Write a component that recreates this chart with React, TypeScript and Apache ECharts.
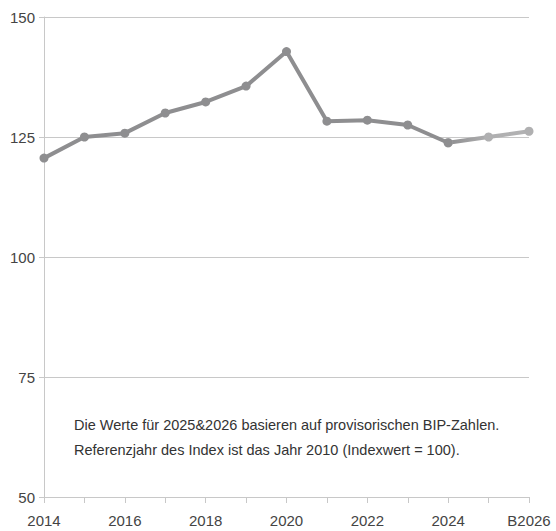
import React, { useEffect, useRef } from "react";
import * as echarts from "echarts";

const categories = ["2014", "2015", "2016", "2017", "2018", "2019", "2020", "2021", "2022", "2023", "2024", "2025", "B2026"];
const mainValues: (number | null)[] = [120.6, 125.0, 125.8, 130.0, 132.3, 135.6, 142.8, 128.3, 128.5, 127.5, 123.8, null, null];
const provisionalValues: (number | null)[] = [null, null, null, null, null, null, null, null, null, null, 123.8, 125.0, 126.2];
const yTicks = [50, 75, 100, 125, 150];
const noteLines = [
  "Die Werte für 2025&2026 basieren auf provisorischen BIP-Zahlen.",
  "Referenzjahr des Index ist das Jahr 2010 (Indexwert = 100).",
];

export default function App() {
  const ref = useRef<HTMLDivElement>(null);
  useEffect(() => {
    if (!ref.current) return;
    const chart = echarts.init(ref.current, undefined, { renderer: "svg" });
    const font = "'Liberation Sans', Arial, sans-serif";
    chart.setOption({
      animation: false,
      grid: { left: 44, right: 27, top: 17, bottom: 34, containLabel: false },
      xAxis: {
        type: "category",
        data: categories,
        boundaryGap: false,
        axisLine: { show: true, lineStyle: { color: "#c8c8c8", width: 1 } },
        axisTick: { show: true, interval: 0, length: 6, lineStyle: { color: "#c8c8c8" } },
        axisLabel: { interval: 1, color: "#444", fontSize: 15, fontFamily: font, margin: 16 },
        splitLine: { show: false },
      },
      yAxis: {
        type: "value",
        min: yTicks[0],
        max: yTicks[yTicks.length - 1],
        interval: 25,
        axisLine: { show: true, lineStyle: { color: "#c8c8c8", width: 1 } },
        axisTick: { show: true, length: 5, lineStyle: { color: "#c8c8c8" } },
        axisLabel: { color: "#444", fontSize: 15, fontFamily: font, margin: 9 },
        splitLine: { show: true, lineStyle: { color: "#c8c8c8", width: 1 } },
      },
      series: [
        {
          type: "line",
          data: provisionalValues,
          symbol: "circle",
          symbolSize: 9,
          lineStyle: {
            width: 4,
            color: new echarts.graphic.LinearGradient(0, 0, 1, 0, [
              { offset: 0, color: "#8e8e90" },
              { offset: 0.5, color: "#afafb0" },
              { offset: 1, color: "#b2b2b3" },
            ]),
          },
          itemStyle: { color: "#b0b0b1" },
          z: 2,
        },
        {
          type: "line",
          data: mainValues,
          symbol: "circle",
          symbolSize: 9,
          lineStyle: { color: "#8e8e90", width: 4 },
          itemStyle: { color: "#8e8e90" },
          z: 3,
        },
      ],
      graphic: noteLines.map((t, i) => ({
        type: "text",
        left: 74,
        top: 417 + i * 25,
        style: { text: t, fill: "#333", font: `14.5px ${font}` },
      })),
    });
    return () => chart.dispose();
  }, []);
  return <div ref={ref} style={{ width: 556, height: 531, position: "absolute", left: 0, top: 0 }} />;
}
